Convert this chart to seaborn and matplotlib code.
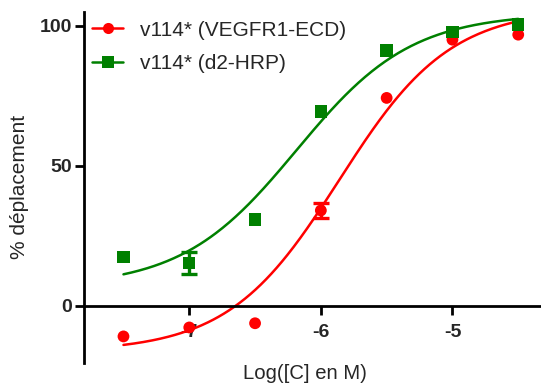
import numpy as np
import pandas as pd
import matplotlib
matplotlib.use("Agg")
import matplotlib.pyplot as plt
import seaborn as sns
from matplotlib.lines import Line2D

# --- Data ---

log_conc = [-7.5, -7.0, -6.5, -6.0, -5.5, -5.0, -4.5]

vegfr1_mean = [-11.0, -7.8, -6.3, 34.0, 74.2, 95.0, 96.8]
vegfr1_err = [0.0, 0.0, 0.0, 2.7, 0.0, 0.0, 0.0]

d2hrp_mean = [17.4, 15.2, 30.7, 69.3, 91.2, 97.7, 100.4]
d2hrp_err = [0.0, 3.9, 0.0, 0.0, 0.0, 0.0, 0.0]

# points read along the fitted curves drawn in the reference
vegfr1_curve_x = [-7.5, -7.0, -6.645, -6.5, -6.265, -6.163, -6.0, -5.707, -5.5, -5.25, -5.0, -4.5]
vegfr1_curve_y = [-15.1, -7.9, 0.0, 6.6, 17.5, 23.5, 33.6, 56.1, 69.8, 83.4, 92.3, 101.2]
d2hrp_curve_x = [-7.5, -7.0, -6.696, -6.5, -6.189, -6.0, -5.707, -5.5, -5.0, -4.5]
d2hrp_curve_y = [11.3, 19.9, 28.8, 38.9, 56.1, 65.6, 79.2, 88.1, 98.0, 102.7]

series_labels = ["v114* (VEGFR1-ECD)", "v114* (d2-HRP)"]
series_colors = ["#ff0000", "#008000"]
series_markers = ["o", "s"]

x_ticks = [-7, -6, -5]
y_ticks = [0, 50, 100]


# --- 4PL fit (grid search on logEC50 / Hill, linear solve for bottom / top) ---

def fit_4pl(x, y):
    x = np.asarray(x, float)
    y = np.asarray(y, float)
    ec = np.linspace(-8.0, -4.0, 801)[:, None, None]
    hill = np.linspace(0.3, 2.5, 441)[None, :, None]
    s = 1.0 / (1.0 + 10 ** ((ec - x[None, None, :]) * hill))
    sm = s.mean(axis=2, keepdims=True)
    ym = y.mean()
    var = ((s - sm) ** 2).sum(axis=2, keepdims=True)
    cov = ((s - sm) * (y - ym)).sum(axis=2, keepdims=True)
    slope = cov / var
    icpt = ym - slope * sm
    sse = ((icpt + slope * s - y) ** 2).sum(axis=2)
    i, j = np.unravel_index(np.argmin(sse), sse.shape)
    bottom = icpt[i, j, 0]
    top = bottom + slope[i, j, 0]
    return bottom, top, ec[i, 0, 0], hill[0, j, 0]

def curve_4pl(xs, p):
    bottom, top, ec, h = p
    return bottom + (top - bottom) / (1.0 + 10 ** ((ec - xs) * h))


sns.set_style("ticks")
plt.rcParams["font.family"] = ["Liberation Sans", "DejaVu Sans"]

fig = plt.figure(figsize=(5.41, 3.85), dpi=100)
ax = fig.add_axes([84 / 541, 1 - 363 / 385, 1 - 84 / 541, (363 - 11.7) / 385])

xs = np.linspace(min(log_conc), max(log_conc), 300)
handles = []
series = zip([vegfr1_mean, d2hrp_mean], [vegfr1_err, d2hrp_err],
             [(vegfr1_curve_x, vegfr1_curve_y), (d2hrp_curve_x, d2hrp_curve_y)],
             series_labels, series_colors, series_markers, [72, 80])
for means, errs, (cx, cy), label, color, marker, msize in series:
    params = fit_4pl(cx, cy)
    fit_df = pd.DataFrame({"x": xs, "y": curve_4pl(xs, params)})
    sns.lineplot(data=fit_df, x="x", y="y", color=color, linewidth=1.8, ax=ax)

    pts = pd.DataFrame({"x": log_conc, "y": means, "err": errs})
    has_err = pts[pts["err"] > 0]
    ax.errorbar(has_err["x"], has_err["y"], yerr=has_err["err"], fmt="none",
                ecolor=color, elinewidth=2.4, capsize=5.8, capthick=2.4, zorder=3)
    sns.scatterplot(data=pts, x="x", y="y", color=color, marker=marker,
                    s=msize, edgecolor="none", linewidth=0, ax=ax, zorder=4)
    handles.append(Line2D([0], [0], color=color, marker=marker,
                          markersize=8, markeredgewidth=0, linewidth=1.8, label=label))

ax.set_xlim(-7.80, -4.327)
ax.set_ylim(-20.5, 105.0)
ax.set_xticks(x_ticks)
ax.set_yticks(y_ticks)
ax.set_xticklabels([str(t) for t in x_ticks])
ax.set_yticklabels([str(t) for t in y_ticks])

ax.spines["top"].set_visible(False)
ax.spines["right"].set_visible(False)
ax.spines["bottom"].set_position(("data", 0))
for sp in ["left", "bottom"]:
    ax.spines[sp].set_linewidth(2.0)
    ax.spines[sp].set_color("black")

ax.tick_params(axis="both", direction="out", length=6.5, width=2.0, color="black",
               labelsize=14, pad=2)
ax.tick_params(axis="x", pad=7)
for lbl in ax.get_xticklabels() + ax.get_yticklabels():
    lbl.set_fontweight("bold")

ax.set_xlabel("")
ax.set_ylabel("")
fig.text(304.7 / 541, 1 - 373.5 / 385, "Log([C] en M)", ha="center", va="center", fontsize=14.6)
fig.text(20 / 541, 1 - 187 / 385, "% déplacement", ha="center", va="center",
         rotation=90, fontsize=15)

fig.legend(handles=handles, loc="upper left", bbox_to_anchor=(92 / 541, 1 - 20.5 / 385),
           bbox_transform=fig.transFigure, frameon=False, fontsize=15,
           borderpad=0, borderaxespad=0, handlelength=1.5, handletextpad=0.82,
           labelspacing=0.7)

fig.savefig("out.png", dpi=100)
